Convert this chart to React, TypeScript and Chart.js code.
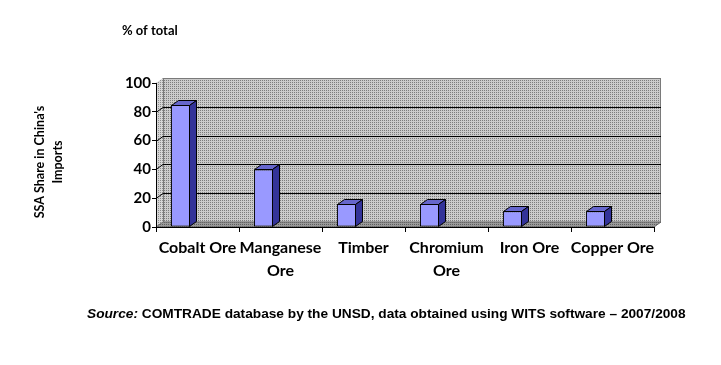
import React, { useEffect, useRef } from 'react';
import { Chart, registerables } from 'chart.js';

Chart.register(...registerables);

const categories: string[][] = [
  ['Cobalt Ore'],
  ['Manganese', 'Ore'],
  ['Timber'],
  ['Chromium', 'Ore'],
  ['Iron Ore'],
  ['Copper Ore'],
];
const shares: number[] = [85, 40, 16, 16, 11, 11];
const wallGridValues: number[] = [20, 40, 60, 80];
const yTitleLines: string[] = ["SSA Share in China's", 'Imports'];
const unitLabel = '% of total';
const sourcePrefix = 'Source:';
const sourceText = ' COMTRADE database by the UNSD, data obtained using WITS software \u2013 2007/2008';

const DX = 7;
const DY = 5;

function makePattern(ctx: CanvasRenderingContext2D, bg: string, dot: string) {
  const c = document.createElement('canvas');
  c.width = 2;
  c.height = 2;
  const g = c.getContext('2d')!;
  g.fillStyle = bg;
  g.fillRect(0, 0, 2, 2);
  g.fillStyle = dot;
  g.fillRect(0, 0, 1, 1);
  return ctx.createPattern(c, 'repeat')!;
}

const wallPlugin = {
  id: 'wall3d',
  beforeDraw(chart: any) {
    const ctx: CanvasRenderingContext2D = chart.ctx;
    const { left, right, top, bottom } = chart.chartArea;
    const y = chart.scales.y;
    ctx.save();
    // side wall
    ctx.fillStyle = makePattern(ctx, '#d6d6d6', '#8c8c8c');
    ctx.beginPath();
    ctx.moveTo(left, bottom);
    ctx.lineTo(left, top);
    ctx.lineTo(left + DX, top - DY);
    ctx.lineTo(left + DX, bottom - DY);
    ctx.closePath();
    ctx.fill();
    // back wall
    ctx.fillStyle = makePattern(ctx, '#cbcbcb', '#7c7c7c');
    ctx.fillRect(left + DX, top - DY, right - left, bottom - top);
    ctx.strokeStyle = '#7a7a7a';
    ctx.lineWidth = 1;
    ctx.strokeRect(left + DX + 0.5, top - DY + 0.5, right - left - 1, bottom - top);
    // floor
    ctx.fillStyle = makePattern(ctx, '#9a9a9a', '#606060');
    ctx.beginPath();
    ctx.moveTo(left, bottom);
    ctx.lineTo(right, bottom);
    ctx.lineTo(right + DX, bottom - DY);
    ctx.lineTo(left + DX, bottom - DY);
    ctx.closePath();
    ctx.fill();
    ctx.strokeStyle = '#6a6a6a';
    ctx.stroke();
    // wall grid lines
    ctx.strokeStyle = '#000';
    ctx.lineWidth = 1;
    wallGridValues.forEach((v) => {
      const py = Math.round(y.getPixelForValue(v)) + 0.5;
      ctx.beginPath();
      ctx.moveTo(left, py);
      ctx.lineTo(left + DX, py - DY);
      ctx.lineTo(right + DX, py - DY);
      ctx.stroke();
    });
    ctx.restore();
  },
  afterDatasetsDraw(chart: any) {
    const ctx: CanvasRenderingContext2D = chart.ctx;
    const meta = chart.getDatasetMeta(0);
    ctx.save();
    ctx.lineWidth = 1;
    ctx.strokeStyle = '#000';
    ctx.lineJoin = 'miter';
    meta.data.forEach((bar: any) => {
      const { x, y, base, width } = bar.getProps(['x', 'y', 'base', 'width'], true);
      const l = Math.round(x - width / 2) + 0.5;
      const r = Math.round(x + width / 2) - 0.5;
      const t = Math.round(y) + 0.5;
      const b = Math.round(base) - 0.5;
      // top face
      ctx.fillStyle = '#6666cc';
      ctx.beginPath();
      ctx.moveTo(l, t);
      ctx.lineTo(l + DX, t - DY);
      ctx.lineTo(r + DX, t - DY);
      ctx.lineTo(r, t);
      ctx.closePath();
      ctx.fill();
      ctx.stroke();
      // side face
      ctx.fillStyle = '#333399';
      ctx.beginPath();
      ctx.moveTo(r, t);
      ctx.lineTo(r + DX, t - DY);
      ctx.lineTo(r + DX, b - DY);
      ctx.lineTo(r, b);
      ctx.closePath();
      ctx.fill();
      ctx.stroke();
    });
    ctx.restore();
  },
  afterDraw(chart: any) {
    const ctx: CanvasRenderingContext2D = chart.ctx;
    ctx.save();
    ctx.fillStyle = '#000';
    ctx.textBaseline = 'middle';
    ctx.textAlign = 'left';
    ctx.font = 'bold 13px Lato';
    ctx.fillText(unitLabel, 122, 31);
    // rotated y title
    ctx.save();
    ctx.translate(0, 162);
    ctx.rotate(-Math.PI / 2);
    ctx.textAlign = 'center';
    ctx.font = 'bold 12.5px Lato';
    ctx.fillText(yTitleLines[0], 0, 40);
    ctx.fillText(yTitleLines[1], 0, 58);
    ctx.restore();
    // source
    ctx.textAlign = 'left';
    ctx.font = 'italic bold 13.7px "Liberation Sans"';
    ctx.fillText(sourcePrefix, 87, 314);
    const w = ctx.measureText(sourcePrefix).width;
    ctx.font = 'bold 13.7px "Liberation Sans"';
    ctx.fillText(sourceText, 87 + w, 314);
    ctx.restore();
  },
};

export default function App() {
  const ref = useRef<HTMLCanvasElement>(null);
  useEffect(() => {
    document.body.style.margin = '0';
    const chart = new Chart(ref.current!, {
      type: 'bar',
      data: {
        labels: categories,
        datasets: [
          {
            data: shares,
            backgroundColor: '#9999ff',
            borderColor: '#000',
            borderWidth: 1,
            borderSkipped: false,
          },
          {
            data: shares.map(() => null),
          },
        ],
      },
      options: {
        animation: false,
        responsive: false,
        events: [],
        categoryPercentage: 0.82,
        barPercentage: 0.56,
        layout: { padding: { top: 83, right: 67, bottom: 0, left: 0 } },
        plugins: { legend: { display: false }, tooltip: { enabled: false }, title: { display: false } },
        scales: {
          x: {
            afterFit: (s: any) => {
              s.height = 138;
            },
            grid: { drawOnChartArea: false, drawTicks: true, tickLength: 5, color: '#000', offset: true },
            border: { display: true, color: '#000' },
            ticks: {
              color: '#000',
              font: { family: 'Lato', weight: 'bold', size: 16, lineHeight: 1.45 },
              padding: 4,
              maxRotation: 0,
              autoSkip: false,
            },
          },
          y: {
            min: 0,
            max: 100,
            afterFit: (s: any) => {
              s.width = 156;
            },
            grid: { drawOnChartArea: false, drawTicks: true, tickLength: 4, color: '#000' },
            border: { display: true, color: '#000' },
            ticks: {
              stepSize: 20,
              color: '#000',
              font: { family: 'Lato', weight: 'bold', size: 15 },
              padding: 1,
            },
          },
        },
      },
      plugins: [wallPlugin],
    });
    return () => chart.destroy();
  }, []);
  return (
    <div style={{ width: 721, height: 365 }}>
      <canvas ref={ref} width={721} height={365} />
    </div>
  );
}
